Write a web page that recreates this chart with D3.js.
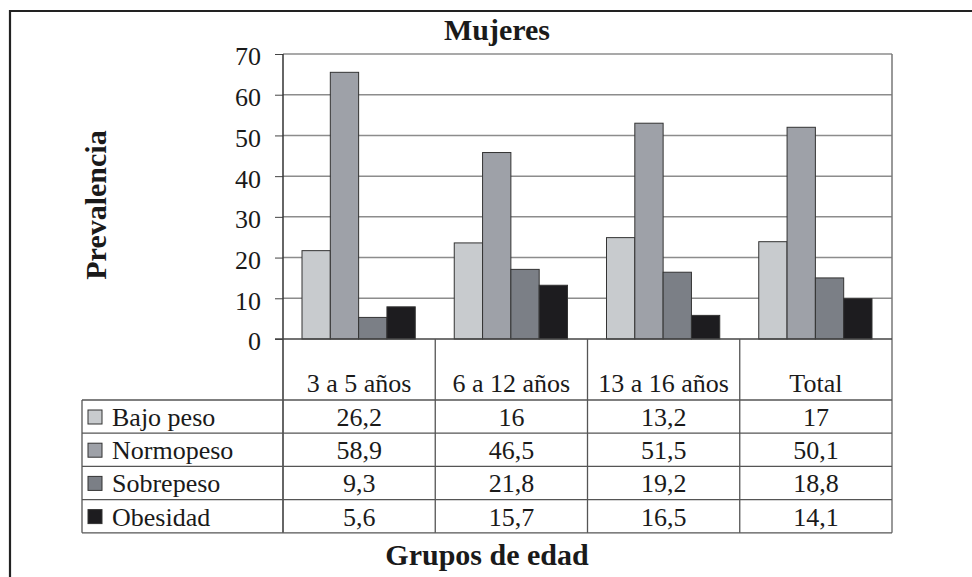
<!DOCTYPE html>
<html lang="es">
<head>
    <meta charset="UTF-8">
    <title>Mujeres - Prevalencia</title>
    <script src="https://cdn.jsdelivr.net/npm/d3@7"></script>
    <style>
        body { margin: 0; background: #fff; }
        svg text { font-family: "Liberation Serif", "Times New Roman", serif; fill: #1a1a1a; }
        .axis path { display: none; }
        .axis line { stroke: #444; }
        .axis text { font-size: 26px; }
    </style>
</head>
<body>
<script>
    // grupos de edad (columnas de la tabla)
    const grupos = ['3 a 5 años', '6 a 12 años', '13 a 16 años', 'Total'];
    const series = ['Bajo peso', 'Normopeso', 'Sobrepeso', 'Obesidad'];
    const colores = ['#c8cbce', '#9ea1a8', '#7b7f86', '#1d1c1f'];

    // alturas de las barras tal como aparecen dibujadas
    const barBajo = [21.7, 23.6, 24.9, 23.9];
    const barNormo = [65.5, 45.8, 53.0, 52.0];
    const barSobre = [5.3, 17.1, 16.4, 15.0];
    const barObes = [7.9, 13.2, 5.8, 9.9];

    // valores de la tabla de datos
    const tablaBajo = ['26,2', '16', '13,2', '17'];
    const tablaNormo = ['58,9', '46,5', '51,5', '50,1'];
    const tablaSobre = ['9,3', '21,8', '19,2', '18,8'];
    const tablaObes = ['5,6', '15,7', '16,5', '14,1'];

    const yTicks = [0, 10, 20, 30, 40, 50, 60, 70];

    const barras = [barBajo, barNormo, barSobre, barObes];
    const tabla = [tablaBajo, tablaNormo, tablaSobre, tablaObes];

    const W = 972, H = 577;
    const pLeft = 283, pRight = 892, pTop = 54, zeroY = 339;
    const headerBottom = 400, rowH = 33.2, tableLeft = 82;

    const svg = d3.select('body').append('svg')
        .attr('width', W)
        .attr('height', H);

    // marco exterior
    svg.append('path')
        .attr('d', `M10,${H} L10,11 L${W},11`)
        .attr('fill', 'none')
        .attr('stroke', '#222')
        .attr('stroke-width', 2.2);

    const x0 = d3.scaleBand().domain(grupos).range([pLeft, pRight]);
    const x1 = d3.scaleBand().domain(series).range([19, x0.bandwidth() - 20]);
    const y = d3.scaleLinear().domain([0, 70]).range([zeroY, pTop]);

    // rejilla
    svg.append('g').selectAll('line')
        .data(yTicks.filter(d => d > 0))
        .join('line')
        .attr('x1', pLeft).attr('x2', pRight)
        .attr('y1', d => y(d)).attr('y2', d => y(d))
        .attr('stroke', '#8c8c8c')
        .attr('stroke-width', 1.5);

    // borde derecho del área del gráfico y de la tabla
    svg.append('line')
        .attr('x1', pRight).attr('x2', pRight)
        .attr('y1', pTop).attr('y2', headerBottom + rowH * 4)
        .attr('stroke', '#777').attr('stroke-width', 1.5);

    // barras
    const g = svg.append('g').selectAll('g')
        .data(grupos)
        .join('g')
        .attr('transform', d => `translate(${x0(d)},0)`);

    g.selectAll('rect')
        .data((d, i) => series.map((s, j) => ({ s, v: barras[j][i], c: colores[j] })))
        .join('rect')
        .attr('x', d => x1(d.s))
        .attr('width', x1.bandwidth())
        .attr('y', d => y(d.v))
        .attr('height', d => y(0) - y(d.v))
        .attr('fill', d => d.c)
        .attr('stroke', '#333')
        .attr('stroke-width', 1);

    // eje vertical
    const yAxis = d3.axisLeft(y).tickValues(yTicks).tickSize(8).tickPadding(14);
    svg.append('g')
        .attr('class', 'axis')
        .attr('transform', `translate(${pLeft},0)`)
        .call(yAxis)
        .call(a => a.selectAll('text').attr('dy', '0.42em'));

    svg.append('line')
        .attr('x1', pLeft).attr('x2', pLeft)
        .attr('y1', pTop).attr('y2', headerBottom + rowH * 4)
        .attr('stroke', '#333').attr('stroke-width', 1.5);
    svg.append('line')
        .attr('x1', pLeft - 8).attr('x2', pRight)
        .attr('y1', zeroY).attr('y2', zeroY)
        .attr('stroke', '#444').attr('stroke-width', 1.5);

    // tabla de datos
    const tLines = svg.append('g').attr('stroke', '#555').attr('stroke-width', 1.3);
    grupos.slice(1).forEach(gr => {
        tLines.append('line')
            .attr('x1', x0(gr)).attr('x2', x0(gr))
            .attr('y1', zeroY).attr('y2', headerBottom + rowH * 4);
    });
    d3.range(5).forEach(i => {
        tLines.append('line')
            .attr('x1', tableLeft).attr('x2', pRight)
            .attr('y1', headerBottom + rowH * i).attr('y2', headerBottom + rowH * i);
    });
    tLines.append('line')
        .attr('x1', tableLeft).attr('x2', tableLeft)
        .attr('y1', headerBottom).attr('y2', headerBottom + rowH * 4);

    svg.append('g').selectAll('text')
        .data(grupos)
        .join('text')
        .attr('x', d => x0(d) + x0.bandwidth() / 2)
        .attr('y', 392)
        .attr('text-anchor', 'middle')
        .attr('font-size', 26)
        .text(d => d);

    const filas = svg.append('g').selectAll('g')
        .data(series)
        .join('g')
        .attr('transform', (d, i) => `translate(0,${headerBottom + rowH * i})`);

    filas.append('rect')
        .attr('x', 88).attr('y', 10)
        .attr('width', 14).attr('height', 14)
        .attr('fill', (d, i) => colores[i])
        .attr('stroke', '#333').attr('stroke-width', 1);

    filas.append('text')
        .attr('x', 112).attr('y', 26)
        .attr('font-size', 26)
        .text(d => d);

    filas.selectAll('text.val')
        .data((d, i) => tabla[i].map((v, j) => ({ v, gr: grupos[j] })))
        .join('text')
        .attr('class', 'val')
        .attr('x', d => x0(d.gr) + x0.bandwidth() / 2)
        .attr('y', 26)
        .attr('text-anchor', 'middle')
        .attr('font-size', 26)
        .text(d => d.v);

    // títulos
    svg.append('text')
        .attr('x', 497).attr('y', 40)
        .attr('text-anchor', 'middle')
        .attr('font-size', 30).attr('font-weight', 'bold')
        .text('Mujeres');

    svg.append('text')
        .attr('transform', 'translate(106,205) rotate(-90)')
        .attr('text-anchor', 'middle')
        .attr('font-size', 30).attr('font-weight', 'bold')
        .text('Prevalencia');

    svg.append('text')
        .attr('x', 487).attr('y', 565)
        .attr('text-anchor', 'middle')
        .attr('font-size', 30).attr('font-weight', 'bold')
        .text('Grupos de edad');
</script>
</body>
</html>
